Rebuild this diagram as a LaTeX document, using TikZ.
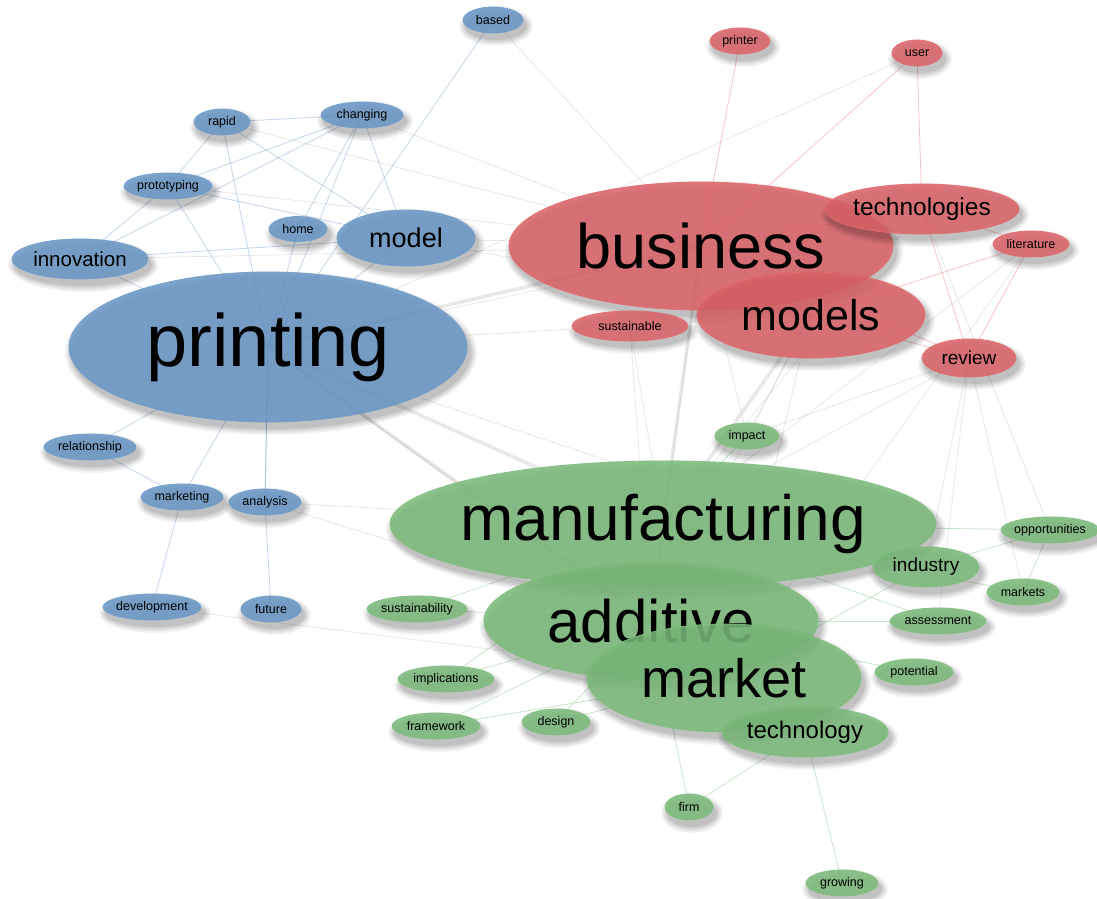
\documentclass[tikz,border=0pt]{standalone}
\usepackage{fontspec}
\setmainfont{Liberation Sans}
\usetikzlibrary{shapes.geometric}
\definecolor{bfill}{RGB}{103,150,197}
\definecolor{bdraw}{RGB}{112,158,205}
\definecolor{rfill}{RGB}{219,98,103}
\definecolor{rdraw}{RGB}{228,108,113}
\definecolor{gfill}{RGB}{122,186,122}
\definecolor{gdraw}{RGB}{128,192,128}
\definecolor{bline}{RGB}{125,165,210}
\definecolor{rline}{RGB}{235,125,130}
\definecolor{gline}{RGB}{135,198,135}
\definecolor{kline}{RGB}{175,175,175}
\tikzset{
  base/.style={ellipse, inner sep=0pt, fill opacity=0.85, draw opacity=0.9, text opacity=1, line width=0.8pt},
  bn/.style={base, fill=bfill, draw=bdraw},
  rn/.style={base, fill=rfill, draw=rdraw},
  gn/.style={base, fill=gfill, draw=gdraw},
  fs/.style={font=\fontsize{#1}{#1}\selectfont},
  tl/.style 2 args={label={[fs=#1]center:#2}},
  every label/.style={inner sep=0pt, text opacity=1, fill opacity=1, draw=none, fill=none},
  shadowlayer/.style={fill=black, opacity=#1},
  eb/.style={draw=bline, opacity=0.45, line width=0.8pt},
  er/.style={draw=rline, opacity=0.45, line width=0.8pt},
  eg/.style={draw=gline, opacity=0.45, line width=0.8pt},
  ek/.style={draw=kline, opacity=0.28, line width=0.8pt},
  ekk/.style={draw=kline, opacity=0.28, line width=3.5pt},
}
% #1 style, #2 coordinate name, #3 width, #4 height, #5 font size, #6 text
\newcommand{\kw}[6]{%
  \foreach \g/\o in {7/0.05,5/0.06,3/0.07,1/0.08}{%
    \fill[shadowlayer=\o] ([shift={(3,6)}]#2) ellipse ({#3/2+\g} and {#4/2+\g});}%
  \node[#1, minimum width=#3pt, minimum height=#4pt, tl={#5}{#6}] (n#2) at (#2) {};%
}
\begin{document}
\begin{tikzpicture}[x=1pt, y=-1pt]
\fill[white] (0,0) rectangle (1097,898);
\useasboundingbox (0,0) rectangle (1097,898);
% ---------- centres of the keyword nodes ----------
\coordinate (based) at (493,20);
\coordinate (rapid) at (222,122);
\coordinate (changing) at (362,115);
\coordinate (prototyping) at (168,186);
\coordinate (home) at (298,229);
\coordinate (model) at (406,238);
\coordinate (innovation) at (80,259);
\coordinate (printing) at (268,347);
\coordinate (relationship) at (90,447);
\coordinate (marketing) at (182,497);
\coordinate (analysis) at (265,502);
\coordinate (development) at (152,607);
\coordinate (future) at (271,609);
\coordinate (printer) at (740,41);
\coordinate (user) at (917,53);
\coordinate (business) at (701,246);
\coordinate (technologies) at (922,209);
\coordinate (literature) at (1031,244);
\coordinate (models) at (811,315);
\coordinate (sustainable) at (630,326);
\coordinate (review) at (969,358);
\coordinate (impact) at (747,436);
\coordinate (manufacturing) at (663,524);
\coordinate (opportunities) at (1050,530);
\coordinate (industry) at (926,567);
\coordinate (markets) at (1023,592);
\coordinate (sustainability) at (417,609);
\coordinate (additive) at (651,621);
\coordinate (assessment) at (938,621);
\coordinate (market) at (724,678);
\coordinate (potential) at (914,672);
\coordinate (implications) at (446,679);
\coordinate (framework) at (436,726);
\coordinate (design) at (556,722);
\coordinate (technology) at (805,732);
\coordinate (firm) at (689,807);
\coordinate (growing) at (842,883);
% ---------- edges ----------
\foreach \a/\b in {rapid/changing, rapid/prototyping, rapid/printing, rapid/model, changing/prototyping,
  changing/innovation, changing/model, changing/home, changing/printing, prototyping/innovation,
  prototyping/model, prototyping/printing, innovation/model, innovation/printing, home/printing,
  model/printing, based/printing, printing/relationship, printing/marketing, printing/analysis,
  marketing/development, analysis/future, relationship/marketing, analysis/printing}
  \draw[eb] (\a) -- (\b);
\foreach \a/\b in {printing/models, printing/market, printing/technologies, model/business, changing/business,
  based/business, rapid/business, prototyping/business, analysis/additive, analysis/manufacturing,
  development/market, business/additive, models/market, models/additive, review/manufacturing,
  review/industry, review/markets, literature/manufacturing, technologies/manufacturing,
  sustainable/manufacturing, sustainable/additive, impact/business, impact/models, impact/review,
  user/printing, model/models, innovation/business, printing/technology, printing/industry,
  review/assessment, literature/market, technologies/opportunities}
  \draw[ek] (\a) -- (\b);
\foreach \a/\b in {printing/business, printing/manufacturing, business/manufacturing, models/manufacturing, printing/additive}
  \draw[ekk] (\a) -- (\b);
\foreach \a/\b in {printer/business, user/business, user/technologies, technologies/review, technologies/literature,
  literature/review, literature/models, business/technologies, business/models, models/review, business/review}
  \draw[er] (\a) -- (\b);
\foreach \a/\b in {manufacturing/additive, manufacturing/market, additive/market, market/technology, technology/firm,
  technology/growing, firm/additive, industry/opportunities, opportunities/markets, opportunities/manufacturing,
  markets/manufacturing, industry/manufacturing, assessment/manufacturing, assessment/additive, potential/additive,
  sustainability/additive, sustainability/manufacturing, implications/additive, implications/manufacturing,
  framework/market, framework/additive, design/market, design/additive, impact/manufacturing, industry/market}
  \draw[eg] (\a) -- (\b);
% ---------- nodes ----------
% blue
\kw{bn}{based}{60}{26}{12.5}{based}
\kw{bn}{rapid}{56}{26}{12.5}{rapid}
\kw{bn}{changing}{82}{26}{12.5}{changing}
\kw{bn}{prototyping}{88}{26}{12.5}{prototyping}
\kw{bn}{home}{58}{25}{12.5}{home}
\kw{bn}{model}{138}{56}{27}{model}
\kw{bn}{innovation}{136}{40}{20.5}{innovation}
\kw{bn}{printing}{398}{150}{74}{printing}
\kw{bn}{relationship}{92}{26}{12.5}{relationship}
\kw{bn}{marketing}{82}{26}{12.5}{marketing}
\kw{bn}{analysis}{72}{26}{12.5}{analysis}
\kw{bn}{development}{98}{26}{12.5}{development}
\kw{bn}{future}{60}{26}{12.5}{future}
% red
\kw{rn}{printer}{60}{26}{12.5}{printer}
\kw{rn}{user}{50}{26}{12.5}{user}
\kw{rn}{business}{384}{128}{63}{business}
\kw{rn}{technologies}{194}{50}{24.5}{technologies}
\kw{rn}{literature}{76}{26}{12.5}{literature}
\kw{rn}{models}{228}{86}{43}{models}
\kw{rn}{sustainable}{116}{30}{12.5}{sustainable}
\kw{rn}{review}{94}{38}{19}{review}
% green
\kw{gn}{impact}{64}{26}{12.5}{impact}
\kw{gn}{manufacturing}{546}{126}{64}{manufacturing}
\kw{gn}{opportunities}{98}{26}{12.5}{opportunities}
\kw{gn}{industry}{106}{40}{19}{industry}
\kw{gn}{markets}{72}{26}{12.5}{markets}
\kw{gn}{sustainability}{100}{26}{12.5}{sustainability}
\kw{gn}{additive}{334}{116}{60}{additive}
\kw{gn}{assessment}{96}{26}{12.5}{assessment}
\kw{gn}{market}{274}{108}{54}{market}
\kw{gn}{potential}{78}{26}{12.5}{potential}
\kw{gn}{implications}{96}{26}{12.5}{implications}
\kw{gn}{framework}{88}{26}{12.5}{framework}
\kw{gn}{design}{68}{26}{12.5}{design}
\kw{gn}{technology}{166}{50}{24}{technology}
\kw{gn}{firm}{48}{26}{12.5}{firm}
\kw{gn}{growing}{72}{26}{12.5}{growing}
\end{tikzpicture}
\end{document}
